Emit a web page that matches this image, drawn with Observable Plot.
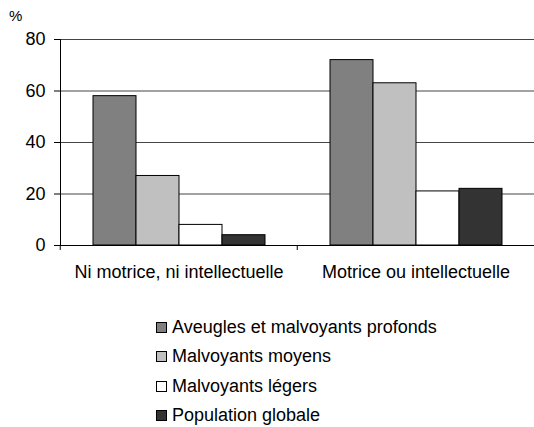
<!DOCTYPE html>
<html>
<head>
<meta charset="utf-8">
<script src="https://cdn.jsdelivr.net/npm/d3@7"></script>
<script src="https://cdn.jsdelivr.net/npm/@observablehq/plot@0.6"></script>
<style>
  body { margin: 0; background: #fff; font-family: "Liberation Sans", Arial, sans-serif; color: #000; }
  #wrap { position: relative; width: 534px; }
  #unit { position: absolute; left: 9px; top: 8px; font-size: 15px; line-height: 1; }
  #legend { margin-top: 23px; margin-left: 156px; font-size: 18px; }
  .row { display: flex; align-items: center; height: 29.3px; }
  .sw { width: 9px; height: 9px; border: 1px solid #000; margin-right: 5px; }
</style>
</head>
<body>
<div id="wrap">
  <div id="unit">%</div>
  <div id="chart"></div>
  <div id="legend"></div>
</div>
<script>
// Categories, series and values
const groups = ["Ni motrice, ni intellectuelle", "Motrice ou intellectuelle"];
const series = ["Aveugles et malvoyants profonds", "Malvoyants moyens", "Malvoyants légers", "Population globale"];
const seriesColors = ["#808080", "#c0c0c0", "#ffffff", "#333333"];
const valuesNiMotriceNiIntellectuelle = [58, 27, 8, 4];
const valuesMotriceOuIntellectuelle = [72, 63, 21, 22];
const yTicks = [0, 20, 40, 60, 80];

const data = [valuesNiMotriceNiIntellectuelle, valuesMotriceOuIntellectuelle].flatMap((vals, i) =>
  vals.map((v, j) => ({group: groups[i], series: series[j], value: v}))
);

const width = 534, height = 290;
const marginLeft = 59, marginRight = 0, marginTop = 39, marginBottom = 45;
const facetWidth = (width - marginLeft - marginRight) / groups.length;

const chart = Plot.plot({
  width, height, marginLeft, marginRight, marginTop, marginBottom,
  style: {fontFamily: "'Liberation Sans', Arial, sans-serif", fontSize: "18px", color: "#000", background: "#fff", overflow: "visible"},
  fx: {domain: groups, padding: 0, label: null},
  x: {domain: series, paddingInner: 0, paddingOuter: 0.75, axis: null},
  y: {domain: [0, 80], label: null},
  color: {domain: series, range: seriesColors},
  marks: [
    Plot.ruleY(yTicks.slice(1), {stroke: "#444", strokeWidth: 1}),
    Plot.barY(data, {fx: "group", x: "series", y: "value", fill: "series", stroke: "#000", strokeWidth: 1}),
    Plot.ruleY([0], {stroke: "#000"}),
    Plot.frame({anchor: "left", facetAnchor: "left", stroke: "#000"}),
    Plot.axisY({ticks: yTicks, tickSize: 6, tickPadding: 9, label: null, stroke: "#000"}),
    // group boundary ticks under the baseline
    Plot.axisFx({anchor: "bottom", tickSize: 5, tickFormat: () => "", dx: -facetWidth / 2, label: null, stroke: "#000"}),
    // group names
    Plot.axisFx({anchor: "bottom", tickSize: 0, tickPadding: 20, label: null})
  ]
});
document.getElementById("chart").appendChild(chart);

// Legend below the chart
const legend = d3.select("#legend");
series.forEach((s, i) => {
  const row = legend.append("div").attr("class", "row");
  row.append("div").attr("class", "sw").style("background", seriesColors[i]);
  row.append("span").text(s);
});
</script>
</body>
</html>
